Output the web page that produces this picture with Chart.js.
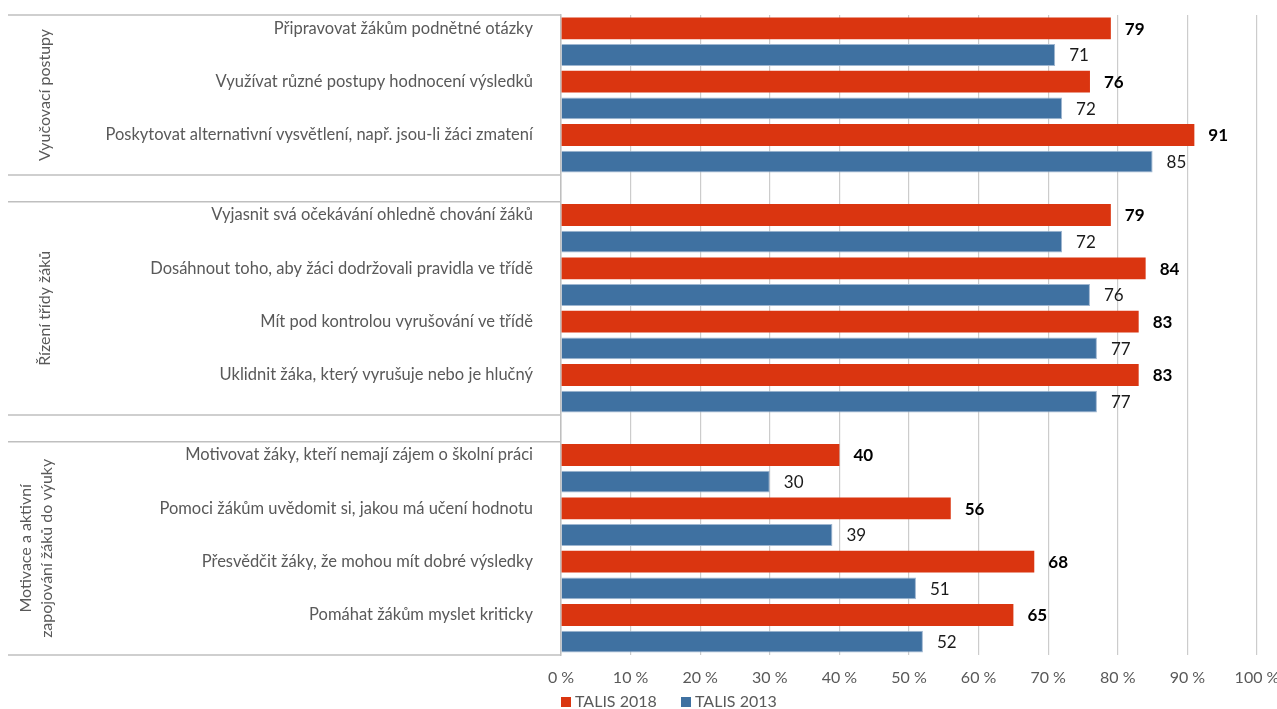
<!DOCTYPE html>
<html>
<head>
<meta charset="utf-8">
<script src="https://cdn.jsdelivr.net/npm/chart.js@4/dist/chart.umd.min.js"></script>
<style>
  html, body { margin: 0; padding: 0; background: #fff; }
  #wrap { width: 1277px; height: 709px; }
</style>
</head>
<body>
<div id="wrap"><canvas id="myChart"></canvas></div>
<script>
// data
const groupNames = [
  ['Vyučovací postupy'],
  ['Řízení třídy žáků'],
  ['Motivace a aktivní', 'zapojování žáků do výuky']
];
const categories = [
  'Připravovat žákům podnětné otázky',
  'Využívat různé postupy hodnocení výsledků',
  'Poskytovat alternativní vysvětlení, např. jsou-li žáci zmatení',
  'Vyjasnit svá očekávání ohledně chování žáků',
  'Dosáhnout toho, aby žáci dodržovali pravidla ve třídě',
  'Mít pod kontrolou vyrušování ve třídě',
  'Uklidnit žáka, který vyrušuje nebo je hlučný',
  'Motivovat žáky, kteří nemají zájem o školní práci',
  'Pomoci žákům uvědomit si, jakou má učení hodnotu',
  'Přesvědčit žáky, že mohou mít dobré výsledky',
  'Pomáhat žákům myslet kriticky'
];
const categoryGroup = [0, 0, 0, 1, 1, 1, 1, 2, 2, 2, 2];
const talis2018 = [79, 76, 91, 79, 84, 83, 83, 40, 56, 68, 65];
const talis2013 = [71, 72, 85, 72, 76, 77, 77, 30, 39, 51, 52];
const xTicks = [0, 10, 20, 30, 40, 50, 60, 70, 80, 90, 100];

const RED = '#DA3510';
const BLUE = '#3F71A1';
const GRAY = '#595959';
const FONT = 'Lato';

// every item gets two rows (2018 then 2013), one empty row between groups
var rowLabels = [];
var rows2018 = [];
var rows2013 = [];
var groupRows = [[], [], []];
var separators = [];   // index of blank rows
for (let i = 0; i < categories.length; i++) {
  if (i > 0 && categoryGroup[i] != categoryGroup[i - 1]) {
    separators.push(rowLabels.length);
    rowLabels.push('');
    rows2018.push(null);
    rows2013.push(null);
  }
  groupRows[categoryGroup[i]].push(rowLabels.length);
  rowLabels.push(categories[i]);
  rows2018.push(talis2018[i]);
  rows2013.push(null);
  groupRows[categoryGroup[i]].push(rowLabels.length);
  rowLabels.push('');
  rows2018.push(null);
  rows2013.push(talis2013[i]);
}

const LEFT_EDGE = 8;

const decorations = {
  id: 'decorations',
  beforeDatasetsDraw(chart) {
    const c = chart.ctx;
    const y = chart.scales.y;
    const area = chart.chartArea;
    c.save();
    c.strokeStyle = '#bfbfbf';
    c.lineWidth = 1.5;
    var lines = [area.top, area.bottom];
    separators.forEach(idx => {
      const half = (y.getPixelForValue(1) - y.getPixelForValue(0)) / 2;
      lines.push(y.getPixelForValue(idx) - half, y.getPixelForValue(idx) + half);
    });
    lines.forEach(py => {
      c.beginPath();
      c.moveTo(LEFT_EDGE, py);
      c.lineTo(area.left, py);
      c.stroke();
    });

    // group titles, rotated
    c.fillStyle = GRAY;
    c.font = '16px ' + FONT;
    c.textAlign = 'center';
    c.textBaseline = 'middle';
    groupRows.forEach((r, g) => {
      const cy = (y.getPixelForValue(r[0]) + y.getPixelForValue(r[r.length - 1])) / 2;
      const names = groupNames[g];
      names.forEach((txt, k) => {
        const cx = names.length == 1 ? 45 : 26 + k * 21;
        c.save();
        c.translate(cx, cy);
        c.rotate(-Math.PI / 2);
        c.fillText(txt, 0, 0);
        c.restore();
      });
    });
    c.restore();
  },
  afterDatasetsDraw(chart) {
    const c = chart.ctx;
    c.save();
    c.textAlign = 'left';
    c.textBaseline = 'middle';
    chart.data.datasets.forEach((ds, di) => {
      const meta = chart.getDatasetMeta(di);
      c.font = (di == 0 ? 'bold ' : '') + '17px ' + FONT;
      c.fillStyle = di == 0 ? '#000' : '#1a1a1a';
      meta.data.forEach((bar, i) => {
        if (ds.data[i] == null) return;
        c.fillText(ds.data[i], bar.x + 14, bar.y + 1);
      });
    });

    // legend
    const lx = chart.chartArea.left;
    const ly = 702;
    c.font = '16px ' + FONT;
    c.fillStyle = RED;
    c.fillRect(lx, ly - 5, 10, 10);
    c.fillStyle = GRAY;
    c.fillText('TALIS 2018', lx + 14, ly);
    c.fillStyle = BLUE;
    c.fillRect(lx + 120, ly - 5, 10, 10);
    c.fillStyle = GRAY;
    c.fillText('TALIS 2013', lx + 134, ly);
    c.restore();
  }
};

new Chart(document.getElementById('myChart'), {
  type: 'bar',
  data: {
    labels: rowLabels,
    datasets: [{
      label: 'TALIS 2018',
      data: rows2018,
      backgroundColor: RED,
      barPercentage: 0.82,
      categoryPercentage: 1
    }, {
      label: 'TALIS 2013',
      data: rows2013,
      backgroundColor: BLUE,
      borderColor: '#9fb6d0',
      borderWidth: 1,
      barPercentage: 0.82,
      categoryPercentage: 1
    }]
  },
  options: {
    indexAxis: 'y',
    responsive: true,
    maintainAspectRatio: false,
    animation: false,
    layout: { padding: { top: 15, right: 20, bottom: 0, left: 0 } },
    plugins: {
      legend: { display: false },
      tooltip: { enabled: false }
    },
    scales: {
      x: {
        stacked: true,
        min: 0,
        max: 100,
        afterBuildTicks: (scale) => { scale.ticks = xTicks.map(v => ({ value: v })); },
        afterFit: (scale) => {
          scale.height = 54;
          scale.paddingLeft = 0;
          scale.paddingRight = 0;
        },
        grid: { color: '#cccccc', lineWidth: 1.2, drawTicks: false },
        border: { display: false },
        ticks: {
          padding: 13,
          color: GRAY,
          font: { family: FONT, size: 16 },
          callback: (v) => v + ' %'
        }
      },
      y: {
        stacked: true,
        afterFit: (scale) => {
          scale.width = 561;
          scale.paddingTop = 0;
          scale.paddingBottom = 0;
        },
        grid: { display: false },
        border: { display: true, color: '#bfbfbf', width: 1.5 },
        ticks: {
          padding: 20,
          autoSkip: false,
          color: GRAY,
          font: { family: FONT, size: 16.5 }
        }
      }
    }
  },
  plugins: [decorations]
});
</script>
</body>
</html>
